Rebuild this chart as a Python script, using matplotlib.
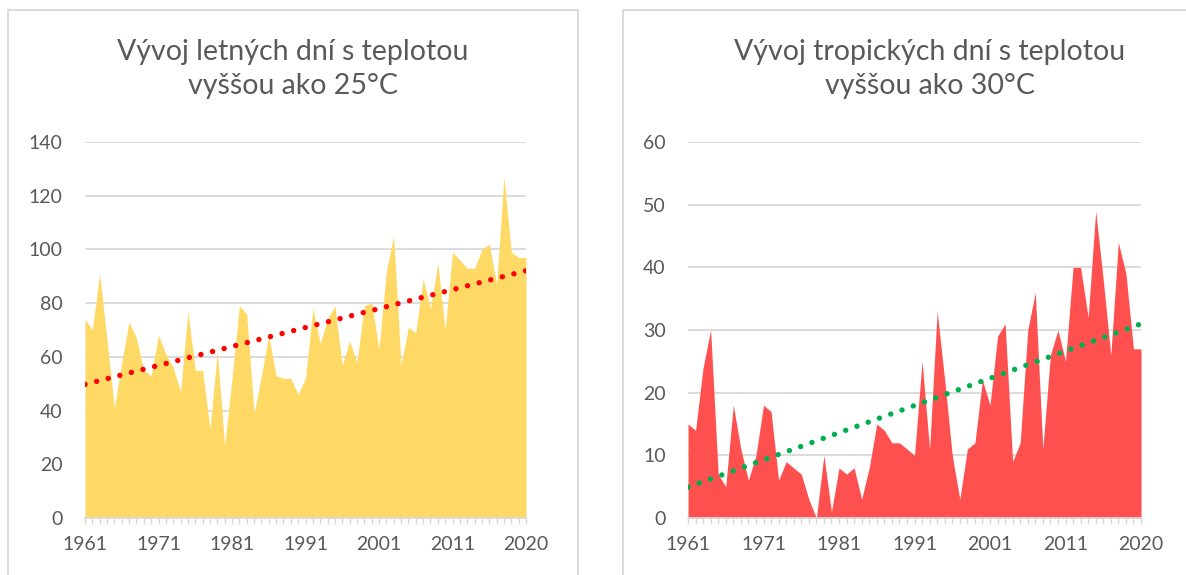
import numpy as np
import matplotlib
matplotlib.use('Agg')
import matplotlib.pyplot as plt
from matplotlib.patches import Rectangle

plt.rcParams['font.family'] = ['Lato', 'DejaVu Sans']

# ── data: 61 points, first labelled 1961, last labelled 2020 ──
tick_labels = ['1961', '1971', '1981', '1991', '2001', '2011', '2020']

summer_days = [74, 70, 91, 66, 41, 58, 73, 67, 55, 53,
               68, 61, 56, 47, 77, 55, 55, 33, 62, 27,
               52, 79, 76, 39, 53, 68, 53, 52, 52, 46,
               52, 78, 65, 74, 79, 57, 66, 58, 79, 80,
               63, 92, 105, 57, 71, 69, 89, 78, 95, 70,
               99, 96, 93, 93, 100, 102, 87, 127, 99, 97,
               97]

tropical_days = [15, 14, 24, 30, 7, 5, 18, 11, 6, 10,
                 18, 17, 6, 9, 8, 7, 3, 0, 10, 1,
                 8, 7, 8, 3, 8, 15, 14, 12, 12, 11,
                 10, 25, 11, 33, 22, 10, 3, 11, 12, 22,
                 18, 29, 31, 9, 12, 30, 36, 11, 26, 30,
                 25, 40, 40, 32, 49, 38, 26, 44, 39, 27,
                 27]

W, H = 1186, 575
fig = plt.figure(figsize=(W / 100, H / 100), dpi=100)
fig.patch.set_facecolor('white')

grey = '#595959'
light = '#D9D9D9'

# chart frames (run off the bottom / right of the image)
for x0, x1 in [(8, 578), (623, 1240)]:
    fig.patches.append(Rectangle((x0 / W, -0.2), (x1 - x0) / W, (H - 10) / H + 0.2,
                                 transform=fig.transFigure, fill=False,
                                 edgecolor=light, linewidth=1.3, zorder=0))


def draw(px0, px1, values, ymax, ystep, fill, trend_col, title, cx):
    ax = fig.add_axes([px0 / W, (H - 518) / H, (px1 - px0) / W, 376 / H])
    x = np.arange(len(values))
    ax.fill_between(x, values, 0, color=fill, linewidth=0, zorder=2)
    # linear trend, like the Excel trendline
    k, b = np.polyfit(x, values, 1)
    ax.plot(x, k * x + b, color=trend_col, linewidth=3.9,
            linestyle=(0, (0.01, 2.2)), dash_capstyle='round', zorder=3)
    ax.set_xlim(0, len(values) - 1)
    ax.set_ylim(0, ymax)
    ax.set_yticks(np.arange(0, ymax + 1, ystep))
    ax.set_xticks(np.arange(0, len(values), 10))
    ax.set_xticklabels(tick_labels)
    ax.set_xticks(x, minor=True)
    for s in ['top', 'right', 'left']:
        ax.spines[s].set_visible(False)
    ax.spines['bottom'].set_color(light)
    ax.spines['bottom'].set_linewidth(1.3)
    ax.grid(axis='y', color=light, linewidth=1.3, zorder=1)
    ax.set_axisbelow(True)
    ax.tick_params(axis='y', length=0, pad=16, labelsize=14, labelcolor=grey)
    ax.tick_params(axis='x', which='both', length=4, width=1, color=light,
                   direction='out', pad=9, labelsize=14, labelcolor=grey)
    fig.text(cx / W, 1 - 69 / H, title, ha='center', va='center',
             fontsize=20.5, color=grey, linespacing=1.4)
    return ax


draw(85, 526, summer_days, 140, 20, '#FFD966', '#FF0000',
     'Vývoj letných dní s teplotou\nvyššou ako 25°C', 293)
draw(688, 1141, tropical_days, 60, 10, '#FF5050', '#00B050',
     'Vývoj tropických dní s teplotou\nvyššou ako 30°C', 930)

plt.savefig('out.png', dpi=100, facecolor='white')
